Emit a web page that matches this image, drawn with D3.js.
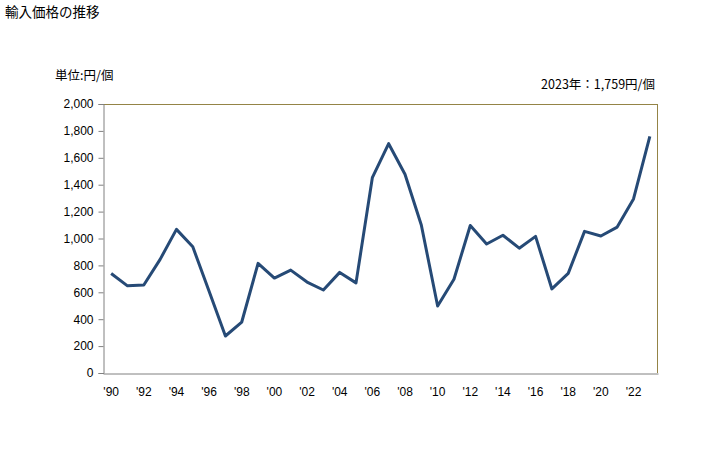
<!DOCTYPE html>
<html><head><meta charset="utf-8">
<script src="https://cdn.jsdelivr.net/npm/d3@7"></script>
<style>body{margin:0;background:#fff;}svg{display:block;font-family:"Noto Sans CJK JP","Noto Sans",sans-serif;}</style>
</head><body><svg id="c" width="728" height="450"></svg>
<script>
const years = d3.range(1990, 2024);
const values = [740,648,654,845,1068,938,608,275,379,815,706,765,676,617,748,670,1452,1705,1478,1100,498,697,1097,959,1024,928,1016,625,741,1053,1019,1085,1294,1759];
const yTicks = [0,200,400,600,800,1000,1200,1400,1600,1800,2000];
const title = "輸入価格の推移";
const unit = "単位:円/個";
const note = "2023年：1,759円/個";

const svg = d3.select("#c");
const L=103,R=658,T=104,B=373;
const x = d3.scaleBand().domain(years).range([L,R]);
const y = d3.scaleLinear().domain([0,2000]).range([B,T]);

svg.append("text").attr("x",5).attr("y",17).attr("font-size",13.5).attr("fill","#000").text(title);
svg.append("text").attr("x",55).attr("y",80).attr("font-size",12.5).attr("fill","#000").text(unit);
svg.append("text").attr("x",655).attr("y",89).attr("text-anchor","end").attr("font-size",12.5).attr("fill","#000").text(note);

// frame
svg.append("line").attr("x1",L).attr("x2",R).attr("y1",T+0.5).attr("y2",T+0.5).attr("stroke","#948446");
svg.append("line").attr("x1",R-0.5).attr("x2",R-0.5).attr("y1",T).attr("y2",B).attr("stroke","#948446");

const yAxis = svg.append("g").attr("transform",`translate(${L+0.5},0)`)
  .call(d3.axisLeft(y).tickValues(yTicks).tickSize(5).tickPadding(5).tickFormat(d3.format(",")));
yAxis.select(".domain").attr("stroke","#808080");
yAxis.selectAll(".tick line").attr("stroke","#808080");
yAxis.selectAll("text").attr("font-size",12).attr("fill","#000").attr("font-family","'Liberation Sans',Arial,sans-serif");

const xAxis = svg.append("g").attr("transform",`translate(0,${B+0.5})`)
  .call(d3.axisBottom(x).tickValues(years.filter(d=>d%2===0)).tickSize(0).tickPadding(14)
    .tickFormat(d=>"'"+String(d).slice(2)));
xAxis.select(".domain").attr("stroke","#808080");
xAxis.selectAll("text").attr("font-size",12).attr("fill","#000").attr("font-family","'Liberation Sans',Arial,sans-serif");

const line = d3.line().x((d,i)=>x(years[i])+x.bandwidth()/2).y(d=>y(d));
svg.append("path").datum(values).attr("d",line).attr("fill","none")
  .attr("stroke","#264a76").attr("stroke-width",3).attr("stroke-linejoin","round");
</script></body></html>
